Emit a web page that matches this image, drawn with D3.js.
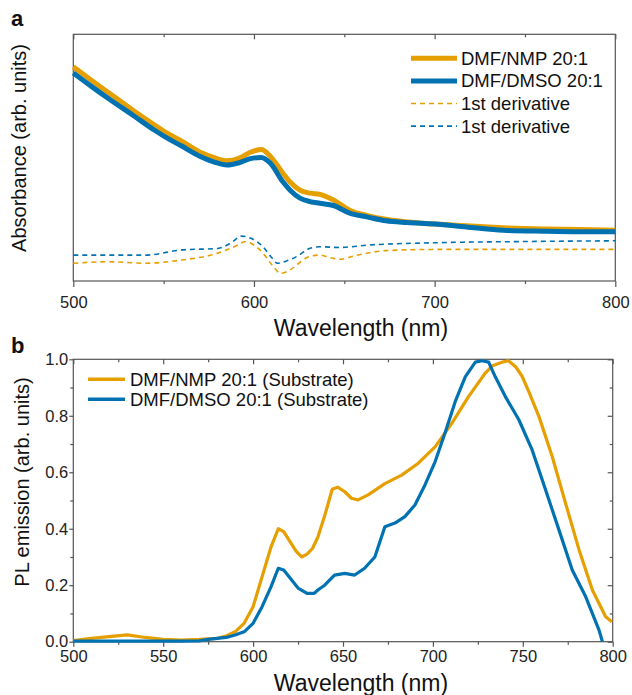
<!DOCTYPE html>
<html>
<head>
<meta charset="utf-8">
<script src="https://cdn.jsdelivr.net/npm/d3@7"></script>
<style>
  body { margin: 0; background: #fff; }
  svg { font-family: "Liberation Sans", Arial, sans-serif; }
  .axis path { display: none; }
  .axis line { stroke: #555; stroke-width: 1.2; }
  .axis text { font-size: 16.5px; fill: #222; font-family: "Liberation Sans", Arial, sans-serif; }
</style>
</head>
<body>
<svg class="chart" width="632" height="695"></svg>
<script>
// ---- panel a : absorbance (arb. units) ----
const absNm      = [500, 510, 520, 533, 545, 552, 560, 570, 578, 585, 592, 598, 604, 609, 616, 620, 625.5, 631, 636.5, 644, 653, 663, 673, 685, 700, 720, 738, 760, 780, 800];
const absNMP     = [86.8, 81.4, 76.1, 69.2, 63.2, 59.9, 56.7, 52.3, 50.0, 48.7, 49.8, 52.2, 53.3, 50.6, 43.7, 40.1, 36.8, 35.6, 35.1, 32.8, 28.7, 26.5, 25.0, 23.9, 23.1, 22.3, 21.6, 21.1, 20.9, 20.6];
const absDMSO    = [84.3, 78.9, 73.7, 67.2, 61.1, 57.9, 54.7, 50.6, 48.2, 47.0, 48.0, 49.6, 50.1, 47.8, 40.2, 36.8, 33.6, 32.2, 31.5, 30.6, 27.5, 25.9, 24.4, 23.7, 23.1, 21.7, 20.6, 20.2, 20.0, 20.0];

const derNmNMP   = [500, 520, 540, 560, 580, 590, 595, 600, 605, 610, 615, 620, 625, 630, 636.5, 642, 647.6, 655, 673, 700, 750, 800];
const derNMP     = [7.2, 7.8, 7.2, 8.5, 11.3, 14.2, 15.9, 14.6, 11.3, 6.5, 3.1, 4.5, 7.3, 9.7, 10.5, 9.5, 8.8, 10.1, 12.3, 12.8, 12.8, 12.8];
const derNmDMSO  = [500, 540, 560, 580, 588, 593, 598, 605, 610, 613, 618, 625, 630, 636.5, 647, 664, 700, 750, 800];
const derDMSO    = [10.5, 10.5, 12.6, 13.2, 15.8, 18.2, 17.4, 13.9, 9.3, 7.2, 8.1, 10.5, 13.0, 13.9, 13.6, 14.6, 15.5, 16.0, 16.3];

// ---- panel b : PL emission ----
const plNmNMP  = [500, 510, 520, 530, 540, 550, 560, 570, 580, 585, 590, 595, 600, 605, 610, 614, 617, 620, 624, 627, 630, 633, 636, 640, 644, 647, 651, 654.7, 658.4, 664, 673.3, 682.6, 691.9, 701.2, 710.5, 719.8, 729, 732.9, 738.5, 742, 746, 749.6, 753.4, 759, 766.4, 773.8, 781.3, 788.7, 796, 799.5];
const plNMP    = [0.004, 0.012, 0.018, 0.024, 0.015, 0.008, 0.006, 0.008, 0.012, 0.02, 0.035, 0.065, 0.124, 0.23, 0.336, 0.40, 0.39, 0.36, 0.32, 0.30, 0.31, 0.33, 0.37, 0.45, 0.54, 0.547, 0.531, 0.508, 0.502, 0.52, 0.56, 0.59, 0.632, 0.69, 0.773, 0.868, 0.95, 0.976, 0.99, 0.995, 0.974, 0.94, 0.885, 0.797, 0.655, 0.49, 0.325, 0.183, 0.089, 0.071];
const plNmDMSO = [500, 520, 540, 560, 570, 575, 580, 585, 590, 595, 600, 605, 610, 614, 617, 620, 625, 630, 634, 636, 639.8, 645.3, 651, 656.5, 662, 667.7, 673.3, 678.9, 684.4, 690, 695.6, 701.2, 706.7, 712.4, 718, 723.6, 727.3, 731, 734.7, 740.3, 747.8, 755.2, 762.7, 770.1, 777.5, 785, 792.4, 794.3];
const plDMSO   = [0.002, 0.002, 0.002, 0.002, 0.003, 0.008, 0.012, 0.015, 0.024, 0.035, 0.065, 0.124, 0.195, 0.26, 0.254, 0.23, 0.19, 0.171, 0.171, 0.183, 0.20, 0.236, 0.242, 0.236, 0.26, 0.30, 0.407, 0.42, 0.443, 0.484, 0.555, 0.637, 0.738, 0.85, 0.938, 0.99, 0.995, 0.99, 0.938, 0.868, 0.786, 0.679, 0.537, 0.396, 0.254, 0.159, 0.041, 0.0];

const xTicksA = [500, 600, 700, 800];
const xTicksB = [500, 550, 600, 650, 700, 750, 800];
const yTicksB = [0, 0.2, 0.4, 0.6, 0.8, 1.0];

const orange = '#E69F00';
const blue = '#0072B2';

const svg = d3.select('svg.chart');
const zip = (xs, ys) => xs.map((x, i) => [x, ys[i]]);

// ================= panel a =================
const xA = d3.scaleLinear().domain([500, 800]).range([73.3, 615.3]);
const yA = d3.scaleLinear().domain([0, 100]).range([281, 34.3]);
const lineA = d3.line().x(d => xA(d[0])).y(d => yA(d[1])).curve(d3.curveMonotoneX);

const gA = svg.append('g');

gA.append('g').attr('class', 'axis')
  .attr('transform', 'translate(0,281)')
  .call(d3.axisBottom(xA).tickValues(xTicksA).tickSize(6).tickPadding(9).tickFormat(d3.format('d')));
gA.append('g').attr('class', 'axis')
  .attr('transform', 'translate(0,281)')
  .call(d3.axisBottom(xA).tickValues([550, 650, 750]).tickSize(3).tickFormat(''));
gA.append('g').attr('class', 'axis')
  .attr('transform', 'translate(0,34.3)')
  .call(d3.axisTop(xA).tickValues(xTicksA).tickSize(-5).tickFormat(''));
gA.append('g').attr('class', 'axis')
  .attr('transform', 'translate(0,34.3)')
  .call(d3.axisTop(xA).tickValues([550, 650, 750]).tickSize(-3).tickFormat(''));

gA.append('rect')
  .attr('x', xA(500)).attr('y', 34.3)
  .attr('width', xA(800) - xA(500)).attr('height', 281 - 34.3)
  .style('fill', 'none').style('stroke', '#555').style('stroke-width', 1.2);

gA.append('path').datum(zip(derNmNMP, derNMP))
  .attr('d', lineA)
  .style('fill', 'none').style('stroke', orange).style('stroke-width', 1.6).style('stroke-dasharray', '5,4');
gA.append('path').datum(zip(derNmDMSO, derDMSO))
  .attr('d', lineA)
  .style('fill', 'none').style('stroke', blue).style('stroke-width', 1.6).style('stroke-dasharray', '5,4');
gA.append('path').datum(zip(absNm, absNMP))
  .attr('d', lineA)
  .style('fill', 'none').style('stroke', orange).style('stroke-width', 5);
gA.append('path').datum(zip(absNm, absDMSO))
  .attr('d', lineA)
  .style('fill', 'none').style('stroke', blue).style('stroke-width', 5);

// legend a
const legA = [
  {label: 'DMF/NMP 20:1', color: orange, w: 5, dash: null},
  {label: 'DMF/DMSO 20:1', color: blue, w: 5, dash: null},
  {label: '1st derivative', color: orange, w: 1.6, dash: '5,4'},
  {label: '1st derivative', color: blue, w: 1.6, dash: '5,4'}
];
const legAG = gA.selectAll('g.legA').data(legA).enter().append('g')
  .attr('class', 'legA')
  .attr('transform', (d, i) => `translate(411, ${58.3 + i * 22.6})`);
legAG.append('line')
  .attr('x1', 0).attr('x2', 46).attr('y1', 0).attr('y2', 0)
  .style('stroke', d => d.color).style('stroke-width', d => d.w)
  .style('stroke-dasharray', d => d.dash);
legAG.append('text')
  .attr('x', 50).attr('y', 0).attr('dy', '0.35em')
  .text(d => d.label)
  .style('font-size', '18.5px').style('fill', '#111');

gA.append('text')
  .attr('x', 361).attr('y', 336)
  .attr('text-anchor', 'middle')
  .style('font-size', '23px').style('fill', '#111')
  .text('Wavelength (nm)');
gA.append('text')
  .attr('transform', 'translate(26,148) rotate(-90)')
  .attr('text-anchor', 'middle')
  .style('font-size', '20px').style('fill', '#111')
  .text('Absorbance (arb. units)');
gA.append('text')
  .attr('x', 11).attr('y', 26)
  .style('font-size', '22px').style('font-weight', 'bold').style('fill', '#111')
  .text('a');

// ================= panel b =================
const xB = d3.scaleLinear().domain([500, 800]).range([73.3, 612.7]);
const yB = d3.scaleLinear().domain([0, 1]).range([641.7, 359.3]);
const lineB = d3.line().x(d => xB(d[0])).y(d => yB(d[1]));

const gB = svg.append('g');
const minorX = d3.range(525, 800, 50);
const minorY = [0.1, 0.3, 0.5, 0.7, 0.9];

gB.append('g').attr('class', 'axis')
  .attr('transform', 'translate(0,641.7)')
  .call(d3.axisBottom(xB).tickValues(xTicksB).tickSize(5).tickPadding(4).tickFormat(d3.format('d')));
gB.append('g').attr('class', 'axis')
  .attr('transform', 'translate(0,641.7)')
  .call(d3.axisBottom(xB).tickValues(minorX).tickSize(3).tickFormat(''));
gB.append('g').attr('class', 'axis')
  .attr('transform', 'translate(0,359.3)')
  .call(d3.axisTop(xB).tickValues(xTicksB).tickSize(-5).tickFormat(''));
gB.append('g').attr('class', 'axis')
  .attr('transform', 'translate(0,359.3)')
  .call(d3.axisTop(xB).tickValues(minorX).tickSize(-3).tickFormat(''));
gB.append('g').attr('class', 'axis')
  .attr('transform', 'translate(73.3,0)')
  .call(d3.axisLeft(yB).tickValues(yTicksB).tickSize(4).tickPadding(1).tickFormat(d3.format('.1f')));
gB.append('g').attr('class', 'axis')
  .attr('transform', 'translate(73.3,0)')
  .call(d3.axisLeft(yB).tickValues(minorY).tickSize(3).tickFormat(''));
gB.append('g').attr('class', 'axis')
  .attr('transform', 'translate(612.7,0)')
  .call(d3.axisRight(yB).tickValues(yTicksB).tickSize(-5).tickFormat(''));
gB.append('g').attr('class', 'axis')
  .attr('transform', 'translate(612.7,0)')
  .call(d3.axisRight(yB).tickValues(minorY).tickSize(-3).tickFormat(''));

gB.append('rect')
  .attr('x', xB(500)).attr('y', 359.3)
  .attr('width', xB(800) - xB(500)).attr('height', 641.7 - 359.3)
  .style('fill', 'none').style('stroke', '#555').style('stroke-width', 1.2);

gB.append('path').datum(zip(plNmNMP, plNMP))
  .attr('d', lineB)
  .style('fill', 'none').style('stroke', orange).style('stroke-width', 3.2).style('stroke-linejoin', 'round');
gB.append('path').datum(zip(plNmDMSO, plDMSO))
  .attr('d', lineB)
  .style('fill', 'none').style('stroke', blue).style('stroke-width', 3.2).style('stroke-linejoin', 'round');

const legB = [
  {label: 'DMF/NMP 20:1 (Substrate)', color: orange},
  {label: 'DMF/DMSO 20:1 (Substrate)', color: blue}
];
const legBG = gB.selectAll('g.legB').data(legB).enter().append('g')
  .attr('class', 'legB')
  .attr('transform', (d, i) => `translate(88, ${379.3 + i * 20})`);
legBG.append('line')
  .attr('x1', 0).attr('x2', 37).attr('y1', 0).attr('y2', 0)
  .style('stroke', d => d.color).style('stroke-width', 3.5);
legBG.append('text')
  .attr('x', 42).attr('y', 0).attr('dy', '0.35em')
  .text(d => d.label)
  .style('font-size', '18.5px').style('fill', '#111');

gB.append('text')
  .attr('x', 361).attr('y', 691)
  .attr('text-anchor', 'middle')
  .style('font-size', '23px').style('fill', '#111')
  .text('Wavelength (nm)');
gB.append('text')
  .attr('transform', 'translate(29,482) rotate(-90)')
  .attr('text-anchor', 'middle')
  .style('font-size', '20px').style('fill', '#111')
  .text('PL emission (arb. units)');
gB.append('text')
  .attr('x', 11).attr('y', 353)
  .style('font-size', '22px').style('font-weight', 'bold').style('fill', '#111')
  .text('b');
</script>
</body>
</html>
